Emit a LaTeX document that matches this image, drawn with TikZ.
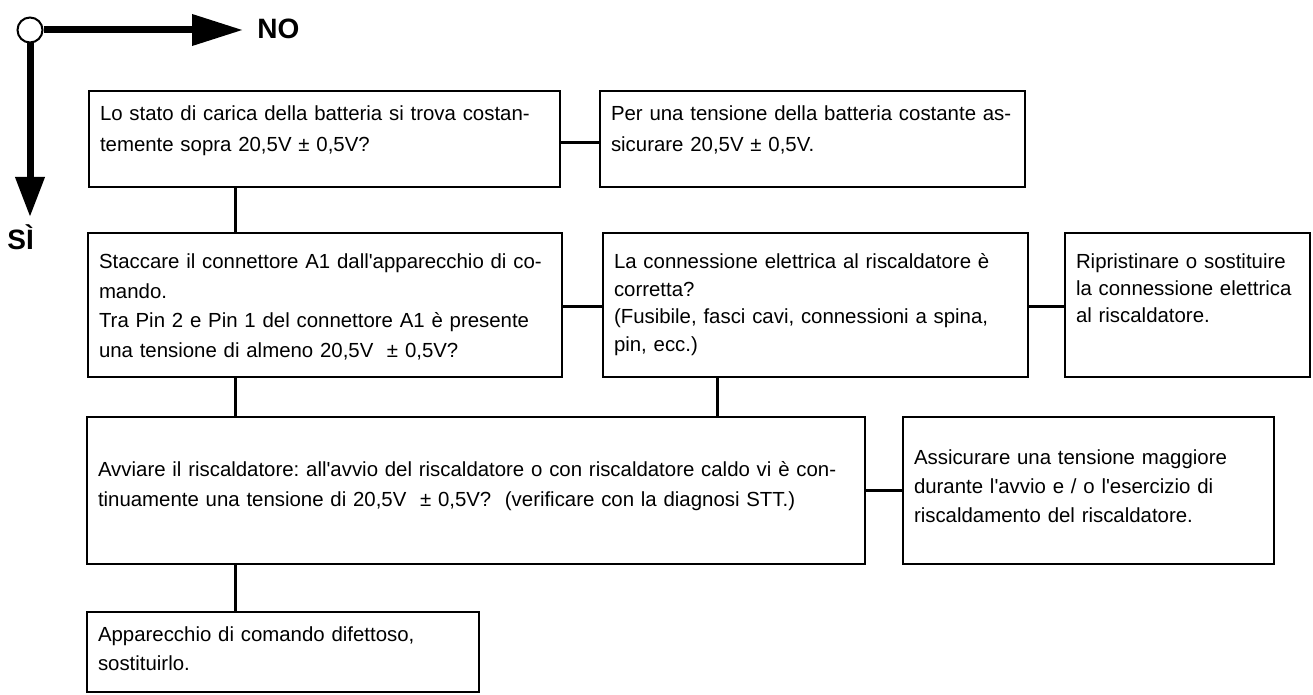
\documentclass[tikz,border=0pt]{standalone}
\usepackage{fontspec}
\setmainfont{Liberation Sans}
\usepackage{tikz}
\usetikzlibrary{arrows.meta,positioning}
\newcommand{\boxfont}[1]{\fontsize{10.2pt}{#1}\selectfont\frenchspacing}
\newcommand{\aq}{\textquotesingle}
\newcommand{\jline}[2][\linewidth]{\makebox[#1][s]{#2}}
\tikzset{
  boxstyle/.style={draw=black,line width=1.3pt,align=left,inner xsep=5.5pt,inner ysep=6pt,outer sep=0pt},
  link/.style={line width=1.5pt,draw=black},
  yesno/.style={line width=3.5pt,draw=black},
  answer/.style={inner sep=0pt,font=\bfseries\fontsize{14pt}{16pt}\selectfont}
}
\begin{document}
\begin{tikzpicture}[x=0.5pt,y=-0.5pt]
  \useasboundingbox (0,0) rectangle (1313,695);
  \node[circle,draw,line width=1pt,fill=white,minimum size=12.5pt,inner sep=0pt] (start) at (30,30) {};
  \coordinate (notip) at (243,30);
  \coordinate (sitip) at (30,217);
  \draw[yesno,-{Triangle[length=25.5pt,width=15pt]}] (start.east) -- (notip);
  \draw[yesno,-{Triangle[length=20pt,width=14pt]}] (start.south) -- (sitip);
  \node[answer,anchor=base west] (no) at (257,39) {NO};
  \node[answer,anchor=base west] (si) at (7,250) {SÌ};
  \node[boxstyle,anchor=north west,text width=224.5pt,text height=9pt,text depth=27pt,font=\boxfont{15.5pt}] (q1) at (89,91) {\jline[222pt]{Lo stato di carica della batteria si trova costan-}\\temente sopra 20,5V ± 0,5V?};
  \node[boxstyle,right=20pt of q1,text width=201.5pt,text height=9pt,text depth=27pt,font=\boxfont{15.5pt}] (p1) {\mbox{Per una tensione della batteria costante as-}\\sicurare 20,5V ± 0,5V.};
  \node[boxstyle,below right=23pt and -0.5pt of q1.south west,text width=226pt,text height=12pt,text depth=48pt,font=\boxfont{14.75pt}] (q2) {\jline[222pt]{Staccare il connettore A1 dall\aq apparecchio di co-}\\mando.\\\jline[222pt]{Tra Pin 2 e Pin 1 del connettore A1 è presente}\\una tensione di almeno 20,5V\ \ ± 0,5V?};
  \node[boxstyle,right=20.5pt of q2,text width=201.5pt,text height=12pt,text depth=48pt,font=\boxfont{13.75pt}] (c1) {La connessione elettrica al riscaldatore è\\corretta?\\(Fusibile, fasci cavi, connessioni a spina,\\pin, ecc.)};
  \node[boxstyle,right=18.5pt of c1,text width=111.5pt,text height=12pt,text depth=48pt,font=\boxfont{13.5pt}] (r1) {Ripristinare o sostituire\\la connessione elettrica\\al riscaldatore.};
  \node[boxstyle,below right=20pt and -0.5pt of q2.south west,text width=378pt,text height=23.5pt,text depth=38pt,font=\boxfont{15pt}] (a1) {\jline{Avviare il riscaldatore: all\aq avvio del riscaldatore o con riscaldatore caldo vi è con-}\\tinuamente una tensione di 20,5V\ \ ± 0,5V?\ \ (verificare con la diagnosi STT.)};
  \node[boxstyle,right=19pt of a1,text width=174.5pt,text height=18pt,text depth=43.5pt,font=\boxfont{14.5pt}] (e1) {Assicurare una tensione maggiore\\durante l\aq avvio e / o l\aq esercizio di\\riscaldamento del riscaldatore.};
  \node[boxstyle,below right=24pt and 0pt of a1.south west,text width=185pt,text height=8.5pt,text depth=19.5pt,font=\boxfont{14.75pt}] (d1) {Apparecchio di comando difettoso,\\sostituirlo.};
  \coordinate (spine) at (235,0);
  \coordinate (branch) at (717,0);
  \draw[link] ([yshift=-2pt]q1.east) -- ([yshift=-2pt]p1.west);
  \draw[link] ([yshift=-1pt]q2.east) -- ([yshift=-1pt]c1.west);
  \draw[link] ([yshift=-1pt]c1.east) -- ([yshift=-1pt]r1.west);
  \draw[link] (a1.east) -- (e1.west);
  \draw[link] (q1.south -| spine) -- (q2.north -| spine);
  \draw[link] (q2.south -| spine) -- (a1.north -| spine);
  \draw[link] (c1.south -| branch) -- (a1.north -| branch);
  \draw[link] (a1.south -| spine) -- (d1.north -| spine);
\end{tikzpicture}
\end{document}
